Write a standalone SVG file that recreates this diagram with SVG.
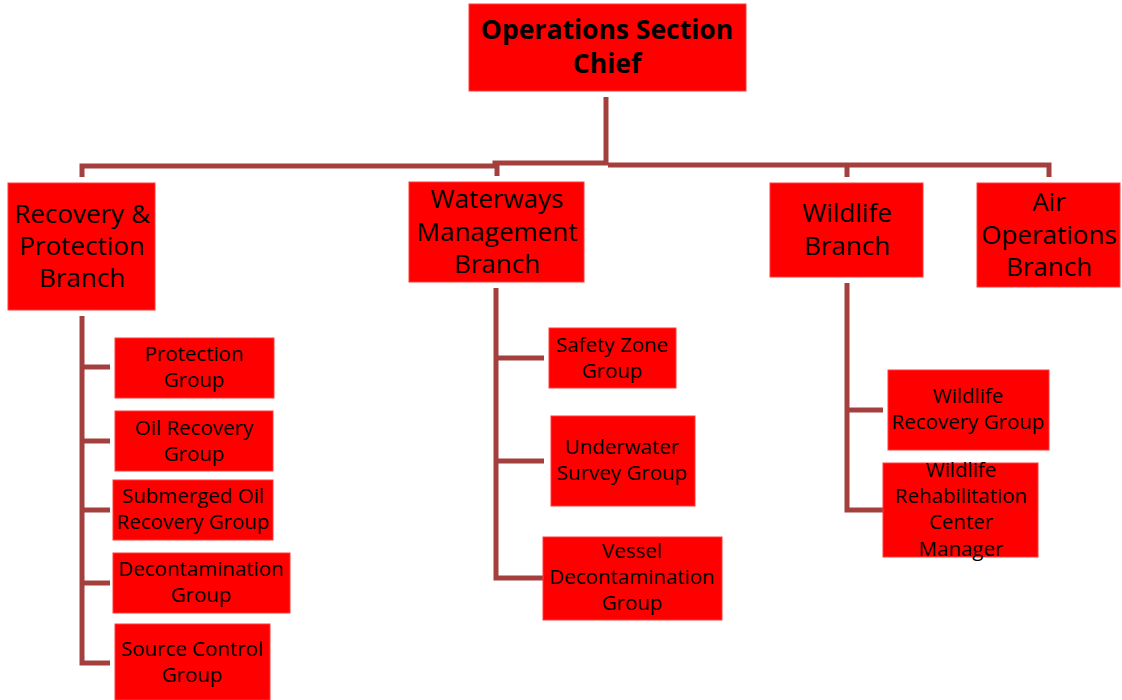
<svg xmlns="http://www.w3.org/2000/svg" width="1122" height="700" viewBox="0 0 1122 700">
<style>
.box{fill:#ff0000;stroke:#ff3a3a;stroke-width:1}
.t{font-family:"Open Sans","Liberation Sans",sans-serif;fill:#000;text-anchor:middle}
.br{font-size:26px}
.gr{font-size:20.5px}
.title{font-size:26.5px;font-weight:bold}
.c{fill:none;stroke:#a3403e;stroke-width:5;stroke-linejoin:miter}
</style>
<rect width="1122" height="700" fill="#fff"/>
<g id="connectors">
<path class="c" d="M606 97V163M82 177V166H495V163H608M497 176V163M608 165H1049V177M847 177V165"/>
<path class="c" d="M82 316V663H110M82 367H110M82 441H110M82 510H110M82 583H110"/>
<path class="c" d="M496 288V578H544M496 358H544M496 461H544"/>
<path class="c" d="M847 283V510H883M847 410H883"/>
</g>
<g id="chief"><rect class="box" x="469" y="4" width="277" height="87"/>
<text class="t title" x="607" y="39">Operations Section</text><text class="t title" x="607" y="73">Chief</text></g>
<g id="recovery"><rect class="box" x="8" y="183" width="147" height="127"/>
<text class="t br" x="82" y="223">Recovery &amp;</text><text class="t br" x="82" y="255">Protection</text><text class="t br" x="82" y="287">Branch</text></g>
<g id="waterways"><rect class="box" x="409" y="182" width="175" height="100"/>
<text class="t br" x="497" y="208">Waterways</text><text class="t br" x="497" y="241">Management</text><text class="t br" x="497" y="273">Branch</text></g>
<g id="wildlife"><rect class="box" x="770" y="183" width="153" height="94"/>
<text class="t br" x="847" y="222">Wildlife</text><text class="t br" x="847" y="255">Branch</text></g>
<g id="air"><rect class="box" x="977" y="183" width="143" height="104"/>
<text class="t br" x="1049" y="211">Air</text><text class="t br" x="1049" y="244">Operations</text><text class="t br" x="1049" y="276">Branch</text></g>
<g id="protection"><rect class="box" x="115" y="338" width="159" height="60"/>
<text class="t gr" x="194" y="361">Protection</text><text class="t gr" x="194" y="387">Group</text></g>
<g id="oilrecovery"><rect class="box" x="115" y="411" width="158" height="60"/>
<text class="t gr" x="194" y="435">Oil Recovery</text><text class="t gr" x="194" y="461">Group</text></g>
<g id="submerged"><rect class="box" x="113" y="480" width="160" height="60"/>
<text class="t gr" x="193" y="503">Submerged Oil</text><text class="t gr" x="193" y="529">Recovery Group</text></g>
<g id="decon"><rect class="box" x="113" y="553" width="177" height="60"/>
<text class="t gr" x="201" y="576">Decontamination</text><text class="t gr" x="201" y="602">Group</text></g>
<g id="source"><rect class="box" x="115" y="624" width="155" height="76"/>
<text class="t gr" x="192" y="656">Source Control</text><text class="t gr" x="192" y="682">Group</text></g>
<g id="safety"><rect class="box" x="549" y="328" width="127" height="60"/>
<text class="t gr" x="612" y="352">Safety Zone</text><text class="t gr" x="612" y="378">Group</text></g>
<g id="underwater"><rect class="box" x="551" y="416" width="144" height="90"/>
<text class="t gr" x="622" y="454">Underwater</text><text class="t gr" x="622" y="480">Survey Group</text></g>
<g id="vessel"><rect class="box" x="543" y="537" width="179" height="83"/>
<text class="t gr" x="632" y="558">Vessel</text><text class="t gr" x="632" y="584">Decontamination</text><text class="t gr" x="632" y="610">Group</text></g>
<g id="wildliferecovery"><rect class="box" x="888" y="370" width="161" height="80"/>
<text class="t gr" x="968" y="403">Wildlife</text><text class="t gr" x="968" y="429">Recovery Group</text></g>
<g id="rehab"><rect class="box" x="883" y="463" width="155" height="94"/>
<text class="t gr" x="961" y="477">Wildlife</text><text class="t gr" x="961" y="503">Rehabilitation</text><text class="t gr" x="961" y="529">Center</text><text class="t gr" x="961" y="556">Manager</text></g>
</svg>
